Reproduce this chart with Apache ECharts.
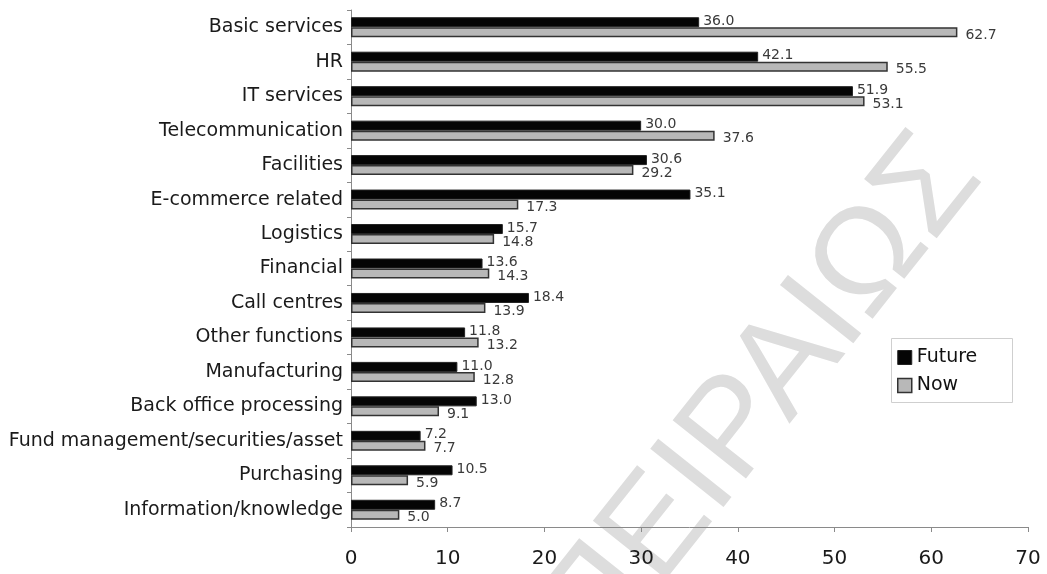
<!DOCTYPE html>
<html>
<head>
<meta charset="utf-8">
<script src="https://cdn.jsdelivr.net/npm/echarts@6/dist/echarts.min.js"></script>
<style>
  html, body { margin: 0; padding: 0; background: #fff; }
  #chart { width: 1047px; height: 574px; }
</style>
</head>
<body>
<div id="chart"></div>
<script>
// Functions, listed top to bottom
const categories = [
  'Basic services', 'HR', 'IT services', 'Telecommunication', 'Facilities',
  'E-commerce related', 'Logistics', 'Financial', 'Call centres', 'Other functions',
  'Manufacturing', 'Back office processing', 'Fund management/securities/asset',
  'Purchasing', 'Information/knowledge'
];
const futureValues = [36.0, 42.1, 51.9, 30.0, 30.6, 35.1, 15.7, 13.6, 18.4, 11.8, 11.0, 13.0, 7.2, 10.5, 8.7];
const nowValues = [62.7, 55.5, 53.1, 37.6, 29.2, 17.3, 14.8, 14.3, 13.9, 13.2, 12.8, 9.1, 7.7, 5.9, 5.0];
const xTicks = [0, 10, 20, 30, 40, 50, 60, 70];

const FONT = '"DejaVu Sans", sans-serif';

const chart = echarts.init(document.getElementById('chart'), null, { renderer: 'canvas' });

chart.setOption({
  backgroundColor: '#ffffff',
  animation: false,
  textStyle: { fontFamily: FONT },
  graphic: [
    {
      // faint diagonal watermark behind the plot
      type: 'text',
      z: -10,
      x: 762,
      y: 398,
      rotation: 0.9,
      style: {
        text: 'ΠΕΙΡΑΙΩΣ',
        x: 0,
        y: 0,
        align: 'center',
        verticalAlign: 'middle',
        font: 'normal 136px "Liberation Sans", sans-serif',
        fill: '#dddddd'
      }
    },
    {
      // framed white panel behind the legend
      type: 'rect',
      z: 5,
      shape: { x: 891.5, y: 338.5, width: 121, height: 64 },
      style: { fill: '#ffffff', stroke: '#cfcfcf', lineWidth: 1 }
    }
  ],
  grid: { left: 351, right: 19, top: 10, bottom: 47, containLabel: false },
  legend: {
    orient: 'vertical',
    left: 891,
    top: 338,
    z: 10,
    padding: [10, 10, 9, 6],
    itemGap: 9,
    itemWidth: 14,
    itemHeight: 14,
    textStyle: { fontSize: 19, color: '#111', fontFamily: FONT },
    data: [
      { name: 'Future', icon: 'rect', itemStyle: { color: '#050505', borderColor: '#222', borderWidth: 1 } },
      { name: 'Now', icon: 'rect', itemStyle: { color: '#b8b8b8', borderColor: '#333', borderWidth: 1.5 } }
    ]
  },
  xAxis: {
    type: 'value',
    min: 0,
    max: 70,
    interval: 10,
    axisLine: { show: true, lineStyle: { color: '#8a8a8a', width: 1 } },
    axisTick: { show: true, length: 5, lineStyle: { color: '#8a8a8a' } },
    splitLine: { show: false },
    axisLabel: {
      margin: 22,
      fontSize: 20,
      color: '#1a1a1a',
      fontFamily: FONT,
      formatter: v => xTicks.includes(v) ? String(v) : ''
    }
  },
  yAxis: {
    type: 'category',
    data: categories,
    inverse: true,
    axisLine: { show: true, lineStyle: { color: '#8a8a8a', width: 1 } },
    axisTick: { show: true, length: 4, alignWithLabel: false, lineStyle: { color: '#8a8a8a' } },
    axisLabel: { margin: 8, fontSize: 19, color: '#1a1a1a', fontFamily: FONT }
  },
  series: [
    {
      name: 'Future',
      type: 'bar',
      data: futureValues,
      barWidth: 10,
      barGap: '0%',
      itemStyle: { color: '#050505', borderColor: '#222', borderWidth: 1 },
      label: {
        show: true,
        position: 'right',
        distance: 4,
        offset: [0, -1],
        fontSize: 14,
        color: '#3a3a3a',
        fontFamily: FONT,
        formatter: p => p.value.toFixed(1)
      }
    },
    {
      name: 'Now',
      type: 'bar',
      data: nowValues,
      barWidth: 10,
      barGap: '0%',
      itemStyle: { color: '#b8b8b8', borderColor: '#333', borderWidth: 1.5 },
      label: {
        show: true,
        position: 'right',
        distance: 8,
        offset: [0, 3],
        fontSize: 14,
        color: '#3a3a3a',
        fontFamily: FONT,
        formatter: p => p.value.toFixed(1)
      }
    }
  ]
});
</script>
</body>
</html>
